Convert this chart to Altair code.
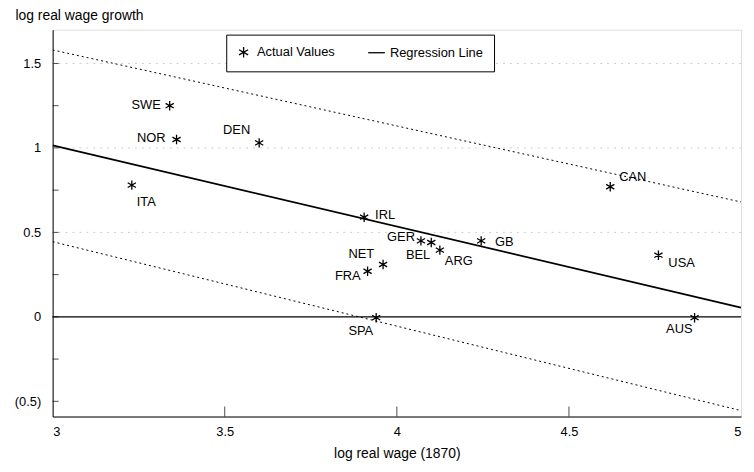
import altair as alt
import pandas as pd

# ---- data ----
countries = ["SWE", "NOR", "DEN", "ITA", "IRL", "GER", "BEL", "ARG", "GB",
             "NET", "FRA", "SPA", "CAN", "USA", "AUS"]
log_wage_1870 = [3.34, 3.36, 3.60, 3.23, 3.905, 4.07, 4.10, 4.125, 4.245,
                 3.96, 3.915, 3.94, 4.62, 4.76, 4.865]
log_wage_growth = [1.25, 1.05, 1.03, 0.78, 0.59, 0.45, 0.44, 0.395, 0.45,
                   0.31, 0.27, -0.005, 0.77, 0.365, -0.005]

line_x = [3.0, 5.0]
reg_y = [1.015, 0.055]
upper_y = [1.58, 0.68]
lower_y = [0.445, -0.555]

y_ticks = [-0.5, 0, 0.5, 1, 1.5]
y_minor = [-0.5, -0.25, 0, 0.25, 0.5, 0.75, 1, 1.25, 1.5]
x_ticks = [3, 3.5, 4, 4.5, 5]
x_inner = [3.5, 4, 4.5]
grid_y = [0.5, 1, 1.5]

X_DOM = [3, 5]
Y_DOM = [-0.59, 1.70]
FONT = "Liberation Sans"

STAR = "M0,-1L0,1M-0.87,-0.5L0.87,0.5M-0.87,0.5L0.87,-0.5"
LINE = "M-1.6,0L1.6,0"

pts = pd.DataFrame({"country": countries, "x": log_wage_1870,
                    "y": log_wage_growth, "series": "Actual Values"})
lines = pd.DataFrame({
    "x": line_x * 3,
    "y": reg_y + upper_y + lower_y,
    "kind": ["reg"] * 2 + ["upper"] * 2 + ["lower"] * 2,
})

xs = alt.Scale(domain=X_DOM, nice=False, zero=False)
ys = alt.Scale(domain=Y_DOM, nice=False, zero=False)

xax = alt.Axis(values=x_ticks, ticks=False, labelPadding=9, labelFontSize=13,
               labelFont=FONT, labelColor="black", grid=False, domainColor="black",
               labelExpr="format(datum.value, '')", labelFlush=True,
               title="log real wage (1870)", titleFont=FONT, titleFontSize=14,
               titleFontWeight="normal", titlePadding=8, titleColor="black")
yax = alt.Axis(values=y_ticks, ticks=False, labelPadding=12, labelFontSize=13,
               labelFont=FONT, labelColor="black", grid=False, domainColor="black",
               labelExpr="datum.value < 0 ? '(' + format(-datum.value, '') + ')' : format(datum.value, '')",
               title="log real wage growth", titleAngle=0, titleAlign="left",
               titleBaseline="alphabetic", titleX=-38, titleY=-10, titleFont=FONT,
               titleFontSize=14, titleFontWeight="normal", titleColor="black")

base_lines = alt.Chart(lines)

grid = alt.Chart(pd.DataFrame({"y": grid_y})).mark_rule(
    color="#cccccc", strokeDash=[2, 5], strokeWidth=1
).encode(y=alt.Y("y:Q", scale=ys))

zero = alt.Chart(pd.DataFrame({"y": [0]})).mark_rule(
    color="black", strokeWidth=1.2
).encode(y=alt.Y("y:Q", scale=ys))

reg = base_lines.transform_filter(alt.datum.kind == "reg").mark_line(
    color="black", strokeWidth=1.7, clip=True
).encode(x=alt.X("x:Q", scale=xs, axis=xax), y=alt.Y("y:Q", scale=ys, axis=yax))

bands = base_lines.transform_filter(alt.datum.kind != "reg").mark_line(
    color="black", strokeWidth=1, strokeDash=[2, 3], clip=True
).encode(x=alt.X("x:Q", scale=xs), y=alt.Y("y:Q", scale=ys), detail="kind:N")

ytick_marks = alt.Chart(pd.DataFrame({"y": y_minor, "x": X_DOM[0]})).mark_tick(
    orient="horizontal", size=6, thickness=1, color="black", xOffset=3
).encode(x=alt.X("x:Q", scale=xs), y=alt.Y("y:Q", scale=ys))

xtick_marks = alt.Chart(pd.DataFrame({"x": x_inner, "y": Y_DOM[0]})).mark_tick(
    orient="vertical", size=10, thickness=1, color="black", yOffset=-5
).encode(x=alt.X("x:Q", scale=xs), y=alt.Y("y:Q", scale=ys))

points = alt.Chart(pts).mark_point(
    filled=False, size=90, strokeWidth=1.3, color="black", opacity=1
).encode(
    x=alt.X("x:Q", scale=xs),
    y=alt.Y("y:Q", scale=ys),
    shape=alt.Shape("series:N",
                    scale=alt.Scale(domain=["Actual Values", "Regression Line"],
                                    range=[STAR, LINE]),
                    legend=alt.Legend(title=None, orient="none", legendX=175,
                                      legendY=5, direction="horizontal",
                                      strokeColor="black", fillColor="white",
                                      padding=11, labelFont=FONT, labelFontSize=13,
                                      labelColor="black", symbolSize=110,
                                      symbolStrokeWidth=1.3,
                                      symbolStrokeColor="black",
                                      symbolFillColor="transparent",
                                      columnPadding=30, labelOffset=7)),
)

# label placement (align, dx, dy) per country
placement = {
    "SWE": ("right", -9, -1), "NOR": ("right", -11, -1), "DEN": ("right", -9, -13),
    "ITA": ("left", 5, 17), "IRL": ("left", 11, -2), "GER": ("right", -6, -4),
    "BEL": ("right", -1, 13), "ARG": ("left", 5, 11), "GB": ("left", 14, 1),
    "NET": ("right", -9, -11), "FRA": ("right", -7, 5), "SPA": ("right", -3, 13),
    "CAN": ("left", 9, -10), "USA": ("left", 10, 8), "AUS": ("right", -2, 11),
}
labels = []
for c in countries:
    a, dx, dy = placement[c]
    labels.append(
        alt.Chart(pts).transform_filter(alt.datum.country == c).mark_text(
            align=a, dx=dx, dy=dy, baseline="middle", font=FONT, fontSize=13,
            color="black"
        ).encode(x=alt.X("x:Q", scale=xs), y=alt.Y("y:Q", scale=ys), text="country:N")
    )

chart = alt.layer(grid, zero, bands, reg, ytick_marks, xtick_marks, points, *labels).properties(
    width=694, height=390,
    autosize=alt.AutoSizeParams(type="none"),
    padding={"left": 45, "top": 20, "right": 5, "bottom": 46},
).configure_view(stroke="black", strokeWidth=1).configure(background="white")

chart.save("out.html", embed_options={"renderer": "svg", "actions": False})
